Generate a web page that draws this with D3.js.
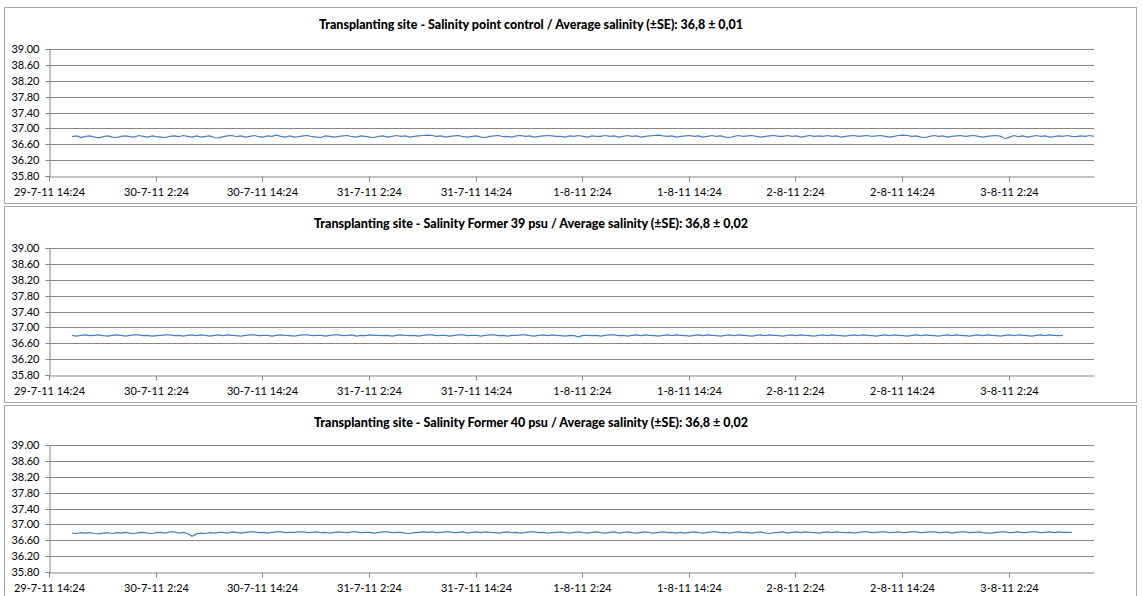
<!DOCTYPE html>
<html><head><meta charset="utf-8">
<script src="https://cdn.jsdelivr.net/npm/d3@7"></script>
<style>
body{margin:0;background:#fff}
text{font-family:Lato,"Open Sans",sans-serif;fill:#000}
</style></head>
<body><svg id="chart" width="1142" height="596"></svg>
<script>
const titles = [
  "Transplanting site - Salinity point control / Average salinity (\u00b1SE): 36,8 \u00b1 0,01",
  "Transplanting site - Salinity Former 39 psu / Average salinity (\u00b1SE): 36,8 \u00b1 0,02",
  "Transplanting site - Salinity Former 40 psu / Average salinity (\u00b1SE): 36,8 \u00b1 0,02"
];
const yTicks = [35.80, 36.20, 36.60, 37.00, 37.40, 37.80, 38.20, 38.60, 39.00];
const xTickLabels = ["29-7-11 14:24","30-7-11 2:24","30-7-11 14:24","31-7-11 2:24","31-7-11 14:24",
  "1-8-11 2:24","1-8-11 14:24","2-8-11 2:24","2-8-11 14:24","3-8-11 2:24"];
const axisStart = "29-7-11 14:24";
const axisEnd = "3-8-11 12:00";
const seriesStart = "29-7-11 17:00";
const stepMinutes = 30;

const controlValues = [
36.79,36.81,36.77,36.80,36.81,36.78,36.76,36.79,36.81,36.78,
36.77,36.80,36.81,36.79,36.78,36.82,36.80,36.78,36.81,36.79,
36.78,36.77,36.80,36.81,36.79,36.82,36.80,36.78,36.81,36.78,
36.80,36.81,36.77,36.76,36.79,36.81,36.82,36.79,36.81,36.78,
36.80,36.82,36.79,36.78,36.81,36.80,36.83,36.80,36.78,36.81,
36.78,36.79,36.81,36.82,36.79,36.78,36.77,36.81,36.80,36.78,
36.80,36.81,36.82,36.79,36.78,36.81,36.80,36.78,36.77,36.80,
36.81,36.78,36.80,36.82,36.80,36.81,36.78,36.80,36.81,36.82,
36.83,36.82,36.80,36.81,36.78,36.80,36.81,36.82,36.79,36.78,
36.80,36.81,36.78,36.77,36.80,36.81,36.82,36.79,36.80,36.78,
36.81,36.82,36.80,36.81,36.78,36.80,36.81,36.82,36.81,36.80,
36.80,36.78,36.81,36.80,36.82,36.80,36.78,36.81,36.80,36.80,
36.82,36.80,36.81,36.78,36.80,36.82,36.80,36.81,36.78,36.80,
36.81,36.82,36.83,36.81,36.80,36.81,36.78,36.80,36.81,36.82,
36.80,36.81,36.78,36.80,36.82,36.80,36.81,36.78,36.77,36.80,
36.82,36.80,36.81,36.82,36.80,36.78,36.80,36.81,36.82,36.80,
36.80,36.82,36.80,36.81,36.78,36.80,36.82,36.80,36.81,36.80,
36.82,36.80,36.81,36.78,36.80,36.81,36.82,36.80,36.81,36.82,
36.80,36.81,36.82,36.80,36.78,36.80,36.82,36.83,36.82,36.80,
36.81,36.78,36.77,36.80,36.82,36.80,36.81,36.78,36.80,36.81,
36.82,36.80,36.81,36.82,36.80,36.78,36.80,36.81,36.82,36.80,
36.74,36.78,36.82,36.79,36.81,36.78,36.80,36.82,36.80,36.81,
36.78,36.79,36.81,36.80,36.82,36.80,36.79,36.81,36.80,36.82,
36.80];

const former39Values = [
36.80,36.78,36.80,36.81,36.79,36.80,36.81,36.79,36.78,36.80,
36.81,36.80,36.78,36.80,36.81,36.81,36.79,36.80,36.78,36.79,
36.80,36.81,36.81,36.79,36.80,36.78,36.80,36.81,36.79,36.81,
36.80,36.78,36.80,36.81,36.79,36.81,36.80,36.79,36.78,36.80,
36.81,36.81,36.79,36.80,36.80,36.78,36.80,36.81,36.80,36.79,
36.78,36.80,36.81,36.81,36.79,36.80,36.80,36.78,36.80,36.81,
36.81,36.79,36.80,36.81,36.78,36.80,36.79,36.81,36.80,36.80,
36.79,36.80,36.78,36.80,36.81,36.80,36.79,36.80,36.78,36.80,
36.81,36.81,36.79,36.80,36.80,36.78,36.80,36.81,36.81,36.79,
36.80,36.80,36.78,36.80,36.81,36.81,36.79,36.80,36.78,36.80,
36.80,36.81,36.81,36.79,36.78,36.80,36.81,36.79,36.81,36.80,
36.79,36.78,36.80,36.79,36.76,36.80,36.80,36.79,36.80,36.78,
36.80,36.81,36.81,36.79,36.80,36.78,36.80,36.81,36.79,36.81,
36.80,36.79,36.78,36.80,36.81,36.79,36.81,36.80,36.79,36.78,
36.80,36.81,36.79,36.81,36.80,36.79,36.78,36.80,36.81,36.79,
36.81,36.80,36.79,36.78,36.80,36.81,36.79,36.81,36.80,36.79,
36.78,36.80,36.81,36.79,36.81,36.80,36.79,36.78,36.80,36.81,
36.79,36.81,36.80,36.79,36.78,36.80,36.81,36.79,36.81,36.80,
36.79,36.78,36.80,36.81,36.79,36.81,36.80,36.79,36.78,36.80,
36.81,36.79,36.81,36.80,36.79,36.78,36.80,36.81,36.79,36.81,
36.80,36.79,36.78,36.80,36.81,36.79,36.81,36.80,36.79,36.78,
36.80,36.81,36.79,36.81,36.80,36.79,36.78,36.80,36.81,36.79,
36.81,36.80,36.79,36.80];

const former40Values = [
36.78,36.77,36.79,36.78,36.79,36.77,36.76,36.78,36.79,36.77,
36.79,36.78,36.80,36.78,36.77,36.79,36.80,36.78,36.77,36.79,
36.80,36.78,36.81,36.81,36.78,36.80,36.77,36.70,36.76,36.78,
36.77,36.79,36.78,36.80,36.80,36.78,36.81,36.80,36.78,36.80,
36.81,36.81,36.79,36.80,36.78,36.80,36.81,36.81,36.79,36.80,
36.80,36.81,36.81,36.79,36.80,36.81,36.79,36.80,36.78,36.80,
36.81,36.80,36.79,36.81,36.81,36.79,36.80,36.80,36.78,36.80,
36.81,36.81,36.79,36.80,36.80,36.78,36.77,36.79,36.80,36.81,
36.80,36.81,36.79,36.80,36.81,36.81,36.79,36.80,36.81,36.78,
36.80,36.81,36.79,36.81,36.80,36.79,36.78,36.80,36.81,36.79,
36.80,36.78,36.80,36.81,36.81,36.79,36.80,36.78,36.79,36.80,
36.81,36.79,36.78,36.80,36.81,36.79,36.78,36.80,36.81,36.79,
36.78,36.80,36.81,36.78,36.80,36.81,36.79,36.78,36.80,36.81,
36.79,36.78,36.80,36.81,36.79,36.80,36.78,36.80,36.78,36.80,
36.81,36.79,36.78,36.80,36.81,36.81,36.79,36.80,36.78,36.80,
36.81,36.79,36.80,36.78,36.80,36.81,36.78,36.77,36.79,36.80,
36.81,36.78,36.80,36.81,36.79,36.81,36.80,36.79,36.78,36.80,
36.81,36.79,36.81,36.80,36.79,36.80,36.78,36.80,36.81,36.81,
36.79,36.80,36.81,36.81,36.79,36.80,36.81,36.79,36.80,36.81,
36.81,36.79,36.80,36.81,36.81,36.79,36.80,36.81,36.78,36.80,
36.81,36.81,36.79,36.80,36.81,36.79,36.78,36.78,36.80,36.81,
36.81,36.79,36.80,36.81,36.79,36.80,36.81,36.81,36.79,36.80,
36.81,36.79,36.81,36.80,36.80,36.80];

const seriesList = [controlValues, former39Values, former40Values];

// layout
const panelTops = [7, 206, 405];
const panelLeft = 4.5, panelWidth = 1132, panelHeight = 196;
const plotLeft = 49, plotRight = 1094;
const plotTopOff = [42, 42, 40], plotBottomOff = [169, 169, 167];
const titleWidths = [424, 434, 434];
const titleX = 531;

const parse = d3.timeParse("%d-%m-%y %H:%M");
const t0 = parse(axisStart), t1 = parse(axisEnd), s0 = parse(seriesStart);
const tickDates = xTickLabels.map(parse);
const labelFor = new Map(tickDates.map((d, i) => [+d, xTickLabels[i]]));

const svg = d3.select("#chart");
const x = d3.scaleTime().domain([t0, t1]).range([plotLeft, plotRight]);

seriesList.forEach((vals, p) => {
  const top = panelTops[p];
  const g = svg.append("g");
  g.append("rect")
    .attr("x", panelLeft).attr("y", top + 0.5)
    .attr("width", panelWidth).attr("height", panelHeight)
    .attr("fill", "#fff").attr("stroke", "#a6a6a6").attr("stroke-width", 1);

  const y = d3.scaleLinear().domain([35.8, 39.0])
    .range([top + plotBottomOff[p], top + plotTopOff[p]]);

  g.append("g").selectAll("line").data(yTicks.slice(1)).join("line")
    .attr("x1", plotLeft).attr("x2", plotRight)
    .attr("y1", d => Math.round(y(d)) + 0.5).attr("y2", d => Math.round(y(d)) + 0.5)
    .attr("stroke", "#868686").attr("stroke-width", 1);

  const ya = g.append("g").attr("transform", `translate(${plotLeft + 0.5},0)`)
    .call(d3.axisLeft(y).tickValues(yTicks).tickSize(4).tickPadding(6)
      .tickFormat(d3.format(".2f")));
  ya.selectAll(".tick").attr("transform", d => `translate(0,${Math.round(y(d)) + 0.5})`);
  ya.selectAll("line").attr("stroke", "#868686");
  ya.select(".domain").attr("stroke", "#868686");
  ya.selectAll("text").style("font-size", "11px").style("font-family", "Lato,'Open Sans',sans-serif");

  const xa = g.append("g").attr("transform", `translate(0,${Math.round(top + plotBottomOff[p]) + 0.5})`)
    .call(d3.axisBottom(x).tickValues(tickDates).tickSize(5).tickSizeOuter(0).tickPadding(7)
      .tickFormat(d => labelFor.get(+d)));
  xa.selectAll(".tick").attr("transform", d => `translate(${Math.round(x(d)) + 0.5},0)`);
  xa.selectAll("line").attr("stroke", "#868686");
  xa.select(".domain").attr("stroke", "#868686");
  xa.selectAll("text").style("font-size", "11px").style("font-family", "Lato,'Open Sans',sans-serif");

  const line = d3.line()
    .x((d, i) => x(d3.timeMinute.offset(s0, i * stepMinutes)))
    .y(d => y(d));
  g.append("path").datum(vals)
    .attr("d", line).attr("fill", "none")
    .attr("stroke", "#4a7ebb").attr("stroke-width", 1.2);

  g.append("text")
    .attr("x", titleX).attr("y", top + 22)
    .attr("text-anchor", "middle")
    .attr("textLength", titleWidths[p]).attr("lengthAdjust", "spacingAndGlyphs")
    .style("font-size", "12.5px").style("font-weight", "900")
    .text(titles[p]);
});
</script></body></html>
